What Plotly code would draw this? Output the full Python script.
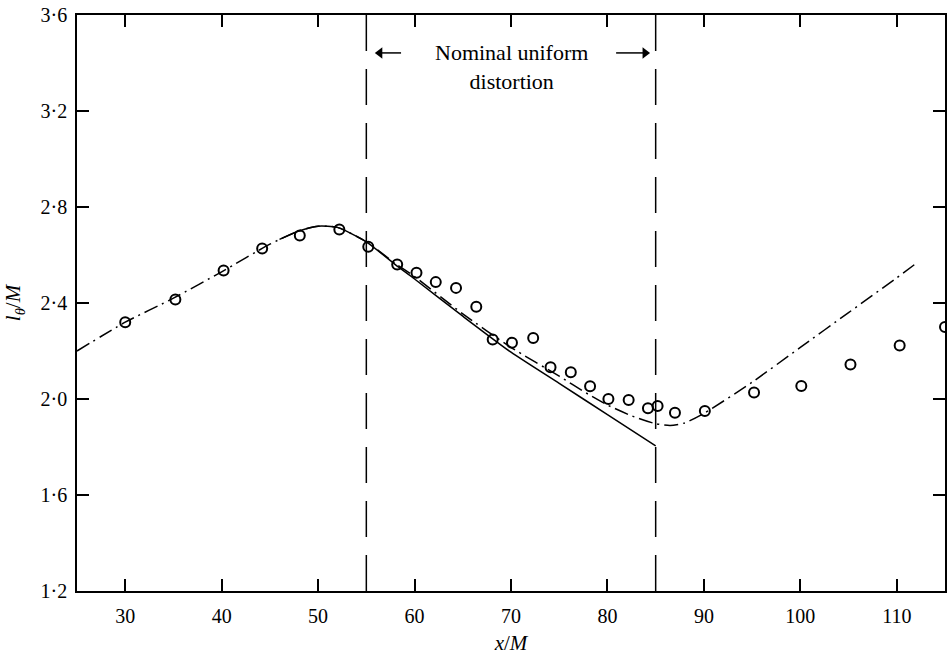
import plotly.graph_objects as go

# ---- data ----
obs_x = [30, 35.2, 40.2, 44.2, 48.1, 52.2, 55.2, 58.2, 60.2, 62.2, 64.3, 66.4, 68.1, 70.1,
         72.3, 74.1, 76.2, 78.2, 80.1, 82.2, 84.2, 85.2, 87.0, 90.1, 95.2, 100.1, 105.2,
         110.3, 115.0]
obs_y = [2.32, 2.415, 2.535, 2.627, 2.681, 2.706, 2.634, 2.56, 2.526, 2.487, 2.463, 2.384,
         2.248, 2.234, 2.254, 2.132, 2.111, 2.053, 2.0, 1.996, 1.961, 1.971, 1.943, 1.95,
         2.027, 2.054, 2.144, 2.223, 2.30]

dashdot_x = [25, 30, 35, 40, 45, 48, 50, 52, 55, 58, 60, 65, 70, 75, 78, 80, 82.5, 85,
             86.5, 88, 90, 95, 100, 105, 110, 112]
dashdot_y = [2.20, 2.32, 2.42, 2.53, 2.645, 2.70, 2.72, 2.715, 2.655, 2.565, 2.51, 2.355,
             2.215, 2.095, 2.02, 1.975, 1.93, 1.897, 1.89, 1.90, 1.94, 2.07, 2.215, 2.36,
             2.505, 2.565]

solid_x = [46, 48, 50, 52, 55, 58, 60, 65, 70, 75, 80, 85]
solid_y = [2.665, 2.70, 2.72, 2.715, 2.655, 2.56, 2.50, 2.345, 2.195, 2.065, 1.935, 1.805]

distortion_bounds = [55, 85]

x_range = [25, 115]
y_range = [1.2, 3.6]
x_tickvals = [30, 40, 50, 60, 70, 80, 90, 100, 110]
x_ticktext = ["30", "40", "50", "60", "70", "80", "90", "100", "110"]
y_tickvals = [1.2, 1.6, 2.0, 2.4, 2.8, 3.2, 3.6]
y_ticktext = ["1·2", "1·6", "2·0", "2·4", "2·8", "3·2", "3·6"]

label_y = 3.442
arrow_tails = [58.6, 80.9]
arrow_heads = [56.4, 83.9]
arrow_symbols = ["triangle-left", "triangle-right"]

FONT = "Liberation Serif"

fig = go.Figure()

for xb in distortion_bounds:
    fig.add_trace(go.Scatter(x=[xb, xb], y=y_range, mode="lines",
                             line=dict(color="black", width=1.5, dash="36px,18px"),
                             hoverinfo="skip", showlegend=False))

fig.add_trace(go.Scatter(x=dashdot_x, y=dashdot_y, mode="lines",
                         line=dict(color="black", width=1.5, dash="14px,5px,2px,5px",
                                   shape="spline", smoothing=0.6),
                         showlegend=False))
fig.add_trace(go.Scatter(x=solid_x, y=solid_y, mode="lines",
                         line=dict(color="black", width=1.5, shape="spline", smoothing=0.6),
                         showlegend=False))
fig.add_trace(go.Scatter(x=obs_x, y=obs_y, mode="markers",
                         marker=dict(symbol="circle-open", size=10, color="black",
                                     line=dict(width=2, color="black")),
                         showlegend=False))

# arrows of the "nominal uniform distortion" label
for tail, head, sym in zip(arrow_tails, arrow_heads, arrow_symbols):
    fig.add_trace(go.Scatter(x=[tail, head], y=[label_y, label_y], mode="lines",
                             line=dict(color="black", width=1.5),
                             hoverinfo="skip", showlegend=False))
    fig.add_trace(go.Scatter(x=[head], y=[label_y], mode="markers",
                             marker=dict(symbol=sym, size=10, color="black"),
                             hoverinfo="skip", showlegend=False))

fig.add_annotation(x=sum(distortion_bounds) / 2, y=label_y, xref="x", yref="y",
                   text="Nominal uniform<br>distortion", showarrow=False,
                   font=dict(family=FONT, size=22, color="black"), yanchor="top",
                   yshift=15)

axis_common = dict(showline=True, linecolor="black", linewidth=1.5, mirror="ticks",
                   ticks="inside", ticklen=12, tickwidth=1.5, tickcolor="black",
                   showgrid=False, zeroline=False,
                   tickfont=dict(family=FONT, size=20, color="black"))

fig.update_xaxes(range=x_range, tickvals=x_tickvals, ticktext=x_ticktext,
                 ticklabelstandoff=6,
                 title=dict(text="<i>x</i>/<i>M</i>", font=dict(family=FONT, size=21, color="black"),
                            standoff=12),
                 **axis_common)
fig.update_yaxes(range=y_range, tickvals=y_tickvals, ticktext=y_ticktext,
                 ticklabelstandoff=4,
                 title=dict(text="<i>l</i><sub><i>θ</i></sub>/<i>M</i>",
                            font=dict(family=FONT, size=21, color="black"), standoff=14),
                 **axis_common)

fig.update_layout(width=949, height=655, margin=dict(l=77, r=2, t=15, b=63),
                  paper_bgcolor="white", plot_bgcolor="white", showlegend=False)

fig.write_html("out.html")
